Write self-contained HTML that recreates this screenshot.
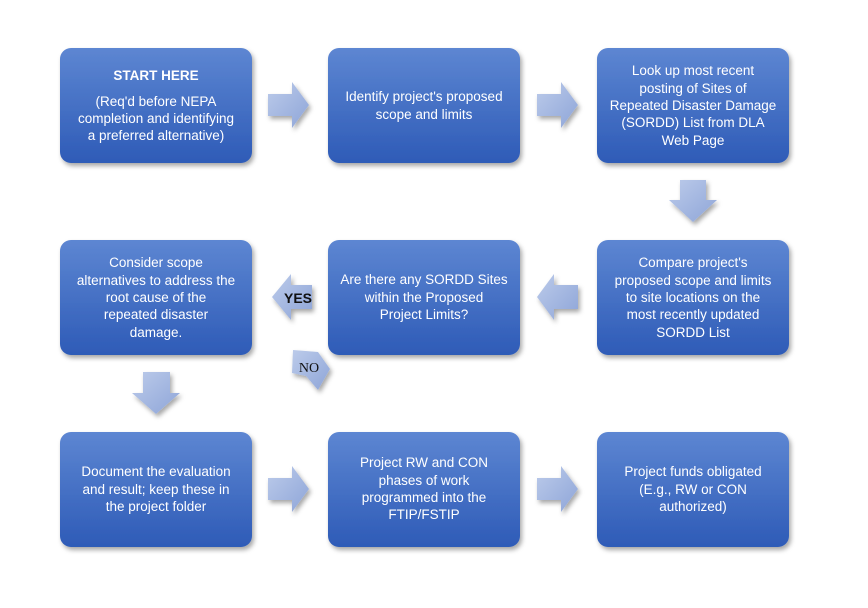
<!DOCTYPE html>
<html><head><meta charset="utf-8"><style>
body{margin:0;background:#fff}
svg{display:block}
text{font-family:"Liberation Sans",sans-serif;font-size:13.5px;fill:#fff;text-anchor:middle}
</style></head><body>
<svg width="868" height="608" viewBox="0 0 868 608">
<defs>
<linearGradient id="b" x1="0" y1="0" x2="0" y2="1"><stop offset="0" stop-color="#5d86d2"/><stop offset="1" stop-color="#2e5bb7"/></linearGradient>
<linearGradient id="a" x1="0" y1="0" x2="1" y2="1"><stop offset="0" stop-color="#bccbea"/><stop offset="1" stop-color="#8ea5d8"/></linearGradient>
<filter id="s" x="-10%" y="-10%" width="130%" height="130%"><feDropShadow dx="2" dy="3" stdDeviation="2.5" flood-color="#000" flood-opacity="0.35"/></filter>
</defs>
<g fill="url(#b)" filter="url(#s)">
<rect x="60" y="48" width="192" height="115" rx="11"/>
<rect x="328" y="48" width="192" height="115" rx="11"/>
<rect x="597" y="48" width="192" height="115" rx="11"/>
<rect x="60" y="240" width="192" height="115" rx="11"/>
<rect x="328" y="240" width="192" height="115" rx="11"/>
<rect x="597" y="240" width="192" height="115" rx="11"/>
<rect x="60" y="432" width="192" height="115" rx="11"/>
<rect x="328" y="432" width="192" height="115" rx="11"/>
<rect x="597" y="432" width="192" height="115" rx="11"/>
</g>
<g fill="url(#a)" filter="url(#s)">
<polygon points="268,94 292,94 292,82 309,105 292,128 292,116 268,116"/>
<polygon points="537,94 561,94 561,82 578,105 561,128 561,116 537,116"/>
<polygon points="268,478 292,478 292,466 309,489 292,512 292,500 268,500"/>
<polygon points="537,478 561,478 561,466 578,489 561,512 561,500 537,500"/>
<polygon points="680,180 706,180 706,200 717,200 693,222 669,200 680,200"/>
<polygon points="143,372 170,372 170,393 180,393 156,414 132,393 143,393"/>
<polygon points="578,285 554,285 554,274 537,297 554,320 554,309 578,309"/>
<polygon points="312,285 291,285 291,274 272,297 291,320 291,309 312,309"/>
<polygon points="293,350 318,352 330,369 318,390 306,376 292,373"/>
</g>
<text x="298" y="303" style="fill:#111;font-weight:bold;font-size:14px">YES</text>
<text x="309" y="372" style="fill:#111;font-family:'Liberation Serif',serif;font-size:14px">NO</text>
<text x="156" y="80" font-weight="bold">START HERE</text>
<text x="156" y="106">(Req'd before NEPA</text>
<text x="156" y="123">completion and identifying</text>
<text x="156" y="140">a preferred alternative)</text>
<text x="424" y="101">Identify project's proposed</text>
<text x="424" y="119">scope and limits</text>
<text x="693" y="75">Look up most recent</text>
<text x="693" y="93">posting of Sites of</text>
<text x="693" y="110">Repeated Disaster Damage</text>
<text x="693" y="127">(SORDD) List from DLA</text>
<text x="693" y="145">Web Page</text>
<text x="156" y="267">Consider scope</text>
<text x="156" y="285">alternatives to address the</text>
<text x="156" y="302">root cause of the</text>
<text x="156" y="319">repeated disaster</text>
<text x="156" y="337">damage.</text>
<text x="424" y="284">Are there any SORDD Sites</text>
<text x="424" y="302">within the Proposed</text>
<text x="424" y="319">Project Limits?</text>
<text x="693" y="267">Compare project's</text>
<text x="693" y="285">proposed scope and limits</text>
<text x="693" y="302">to site locations on the</text>
<text x="693" y="319">most recently updated</text>
<text x="693" y="337">SORDD List</text>
<text x="156" y="476">Document the evaluation</text>
<text x="156" y="494">and result; keep these in</text>
<text x="156" y="511">the project folder</text>
<text x="424" y="467">Project RW and CON</text>
<text x="424" y="485">phases of work</text>
<text x="424" y="502">programmed into the</text>
<text x="424" y="519">FTIP/FSTIP</text>
<text x="693" y="476">Project funds obligated</text>
<text x="693" y="494">(E.g., RW or CON</text>
<text x="693" y="511">authorized)</text>
</svg>
</body></html>
